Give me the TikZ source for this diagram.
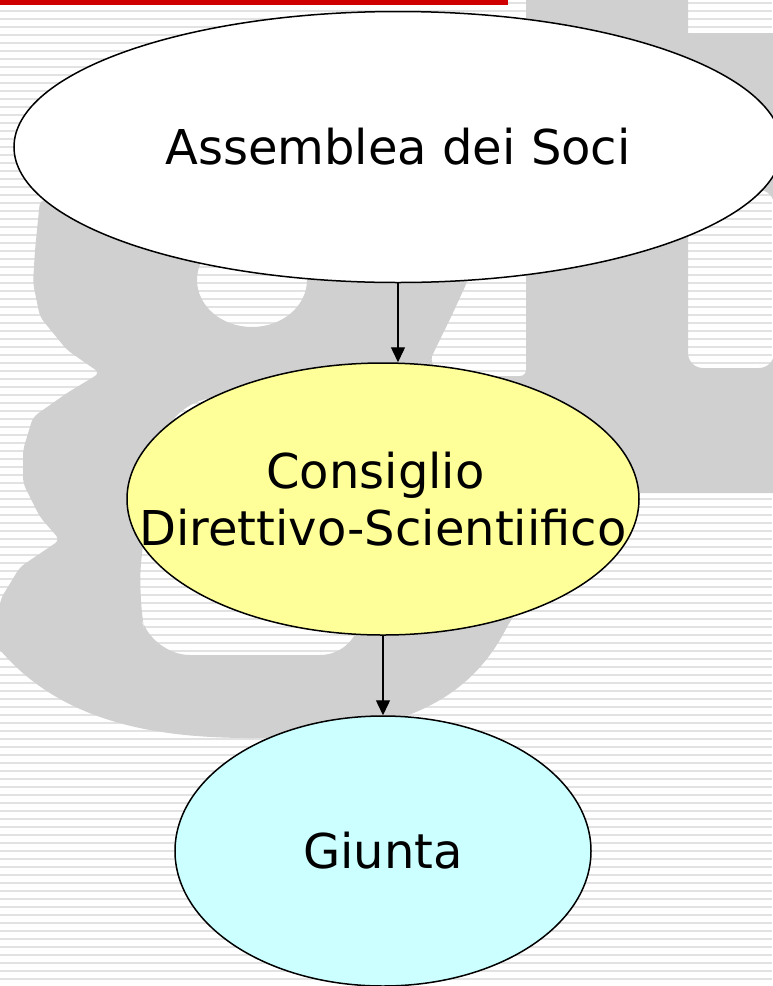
\documentclass[tikz,border=0pt]{standalone}
\usepackage{fontspec}
\setmainfont{DejaVu Sans}
\usetikzlibrary{shapes.geometric,arrows.meta}
\definecolor{bggray}{RGB}{208,208,208}
\definecolor{stripe}{RGB}{226,226,226}
\definecolor{barred}{RGB}{208,0,0}
\definecolor{nodeyellow}{RGB}{255,255,153}
\definecolor{nodecyan}{RGB}{204,255,255}
\begin{document}
\begin{tikzpicture}[x=1pt,y=-1pt,
  orgbox/.style={ellipse, draw=black, line width=1.5pt, inner sep=0pt},
  orglabel/.style={font=\fontsize{48}{57}\selectfont, align=center, inner sep=0pt, text=black},
  arr/.style={line width=1.4pt, -{Triangle[width=14pt,length=15pt]}},
  stripeline/.style={stripe, line width=2pt},
]
\useasboundingbox (0,0) rectangle (772,986);
% striped background
\fill[white] (0,0) rectangle (772,986);
\foreach \yy in {3,11,...,987} \draw[stripeline] (0,\yy) -- (772,\yy);
% large grey logo shapes with striped holes
\fill[bggray, even odd rule]
  [rounded corners=6pt] (40,200) -- (468,200) -- (468,280) -- (452,315) -- (430,360) -- (440,376) -- (526,376)
  [sharp corners] -- (526,-2) -- (774,-2) -- (774,493) -- (640,493)
  .. controls (600,520) and (540,570) .. (507,627)
  .. controls (470,700) and (400,738) .. (250,738)
  .. controls (150,738) and (60,720) .. (0,650)
  [rounded corners=6pt] -- (0,600) -- (20,567) -- (60,540) -- (40,517) -- (23,483) -- (23,450) -- (33,417) -- (67,393) -- (100,373) -- (67,350) -- (40,317) -- (33,283) -- (35,250) -- cycle
  [sharp corners]
  (252,280) ellipse [x radius=55pt, y radius=47pt]
  [rounded corners=40pt] (176,398) -- (360,398) -- (360,655) -- (150,655) -- (137,600) -- (150,480) -- cycle
  [sharp corners] (688,-2) rectangle (774,33)
  [rounded corners=15pt] (688,190) -- (774,190) -- (774,368) -- (688,368) -- cycle;
% red bar
\fill[barred] (0,0) rectangle (508,4.5);
% nodes
\node[orgbox, fill=white, minimum width=768pt, minimum height=271pt,
      label={[orglabel]center:Assemblea dei Soci}] (E1) at (398,147) {};
\node[orgbox, fill=nodeyellow, minimum width=512pt, minimum height=272pt,
      label={[orglabel]center:{Consiglio\hspace*{15pt}\\Direttivo-Scientiifico}}] (E2) at (383,499) {};
\node[orgbox, fill=nodecyan, minimum width=416pt, minimum height=270pt,
      label={[orglabel]center:Giunta}] (E3) at (383,851) {};
% connectors
\draw[arr] (E1.south) -- (E1.south |- E2.north);
\draw[arr] (E2.south) -- (E3.north);
\end{tikzpicture}
\end{document}
